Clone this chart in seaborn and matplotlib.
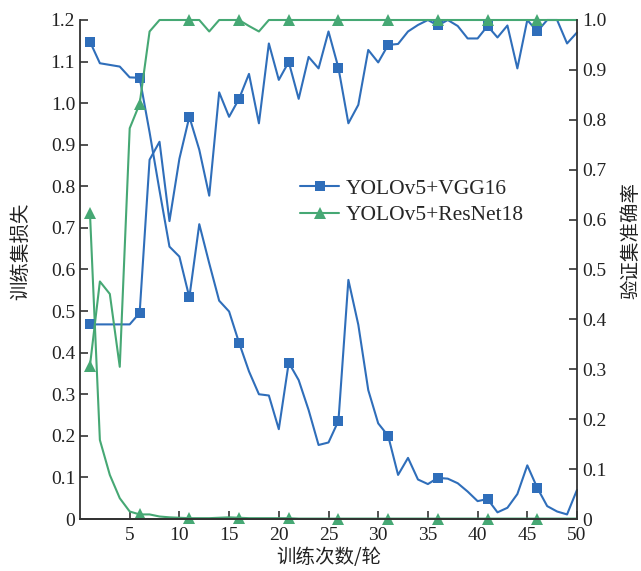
import matplotlib
matplotlib.use("Agg")
import matplotlib.pyplot as plt
from matplotlib.lines import Line2D
from matplotlib.ticker import FuncFormatter, MultipleLocator
import seaborn as sns
import pandas as pd

epochs = list(range(1, 51))

vgg_loss = [1.148, 1.096, 1.092, 1.088, 1.062, 1.061, 0.930, 0.790, 0.655, 0.631,
            0.533, 0.709, 0.615, 0.525, 0.499, 0.424, 0.355, 0.300, 0.297, 0.216,
            0.376, 0.334, 0.262, 0.178, 0.184, 0.236, 0.575, 0.467, 0.310, 0.230,
            0.200, 0.106, 0.147, 0.095, 0.084, 0.099, 0.097, 0.086, 0.066, 0.043,
            0.048, 0.016, 0.027, 0.060, 0.129, 0.075, 0.031, 0.018, 0.011, 0.070]

vgg_acc = [0.390, 0.390, 0.390, 0.390, 0.390, 0.413, 0.720, 0.756, 0.597, 0.722,
           0.806, 0.740, 0.648, 0.855, 0.806, 0.842, 0.892, 0.793, 0.953, 0.880,
           0.916, 0.842, 0.926, 0.903, 0.977, 0.904, 0.793, 0.830, 0.940, 0.915,
           0.950, 0.952, 0.977, 0.990, 1.000, 0.989, 1.000, 0.988, 0.963, 0.963,
           0.988, 0.965, 0.989, 0.903, 1.000, 0.977, 1.000, 1.000, 0.953, 0.975]

res_loss = [0.737, 0.190, 0.106, 0.050, 0.018, 0.011, 0.011, 0.006, 0.004, 0.003,
            0.002, 0.002, 0.002, 0.003, 0.004, 0.003, 0.002, 0.002, 0.002, 0.002,
            0.002, 0.001, 0.001, 0.001, 0.001, 0.001, 0.001, 0.001, 0.001, 0.001,
            0.001, 0.001, 0.001, 0.001, 0.001, 0.001, 0.001, 0.001, 0.001, 0.001,
            0.001, 0.001, 0.001, 0.001, 0.001, 0.001, 0.001, 0.001, 0.001, 0.001]

res_acc = [0.307, 0.476, 0.451, 0.305, 0.783, 0.832, 0.977, 1.000, 1.000, 1.000,
           1.000, 1.000, 0.977, 1.000, 1.000, 1.000, 0.988, 0.977, 1.000, 1.000,
           1.000, 1.000, 1.000, 1.000, 1.000, 1.000, 1.000, 1.000, 1.000, 1.000,
           1.000, 1.000, 1.000, 1.000, 1.000, 1.000, 1.000, 1.000, 1.000, 1.000,
           1.000, 1.000, 1.000, 1.000, 1.000, 1.000, 1.000, 1.000, 1.000, 1.000]

series_names = ["YOLOv5+VGG16", "YOLOv5+ResNet18"]
x_label = "训练次数/轮"
y_left_label = "训练集损失"
y_right_label = "验证集准确率"

sns.set_style("ticks")
plt.rcParams["font.family"] = ["Liberation Serif", "Noto Sans CJK SC", "DejaVu Sans"]

blue = "#2F6EBA"
green = "#46A874"
spine_c = "#333333"
cjk = ["Noto Sans CJK SC", "DejaVu Sans"]

df = pd.DataFrame({"epoch": epochs, "vgg_loss": vgg_loss, "vgg_acc": vgg_acc,
                   "res_loss": res_loss, "res_acc": res_acc})

fig = plt.figure(figsize=(6.41, 5.71), dpi=100)
ax = fig.add_axes([80 / 641, 1 - 519 / 571, 497 / 641, 499 / 571])
ax2 = ax.twinx()

common = dict(lw=1.5, markevery=slice(0, None, 5), clip_on=False, legend=False)
sns.lineplot(data=df, x="epoch", y="vgg_loss", ax=ax, color=blue, marker="s",
             markersize=7.5, markeredgewidth=0, **common)
sns.lineplot(data=df, x="epoch", y="res_loss", ax=ax, color=green, marker="^",
             markersize=8, markeredgewidth=0, **common)
sns.lineplot(data=df, x="epoch", y="vgg_acc", ax=ax2, color=blue, marker="s",
             markersize=7.5, markeredgewidth=0, **common)
sns.lineplot(data=df, x="epoch", y="res_acc", ax=ax2, color=green, marker="^",
             markersize=8, markeredgewidth=0, **common)

ax.set_xlim(0, 50)
ax.set_ylim(0, 1.2)
ax2.set_ylim(0, 1.0)
ax.set_xticks(list(range(5, 51, 5)))
ax.yaxis.set_major_locator(MultipleLocator(0.1))
ax2.yaxis.set_major_locator(MultipleLocator(0.1))

fmt = FuncFormatter(lambda v, p: "0" if abs(v) < 1e-9 else f"{v:.1f}")
ax.yaxis.set_major_formatter(fmt)
ax2.yaxis.set_major_formatter(fmt)

for a in (ax, ax2):
    a.spines["top"].set_visible(False)
    for s in a.spines.values():
        s.set_color(spine_c)
        s.set_linewidth(1.3)
    a.tick_params(direction="in", length=5.5, width=1.2, color=spine_c,
                  labelsize=14, labelcolor="#222222")
ax.spines["right"].set_visible(False)
ax2.spines["left"].set_visible(False)
ax.tick_params(axis="x", pad=6)

ax.set_xlabel(x_label, fontsize=14, family=cjk, color="#222222")
ax.set_ylabel(y_left_label, fontsize=14, family=cjk, color="#222222")
ax2.set_ylabel(y_right_label, fontsize=14, family=cjk, color="#222222", rotation=90)
ax.xaxis.set_label_coords(0.5, -0.056)
ax.yaxis.set_label_coords(-0.099, 0.537)
ax2.yaxis.set_label_coords(1.087, 0.559)

handles = [Line2D([], [], color=blue, lw=1.5, marker="s", markersize=7.5, markeredgewidth=0),
           Line2D([], [], color=green, lw=1.5, marker="^", markersize=8, markeredgewidth=0)]
ax2.legend(handles, series_names, loc="center left", bbox_to_anchor=(0.443, 0.635),
           frameon=False, fontsize=15.5, handlelength=1.8, handletextpad=0.3,
           labelspacing=0.3, borderpad=0, borderaxespad=0)

fig.savefig("out.png", dpi=100)
